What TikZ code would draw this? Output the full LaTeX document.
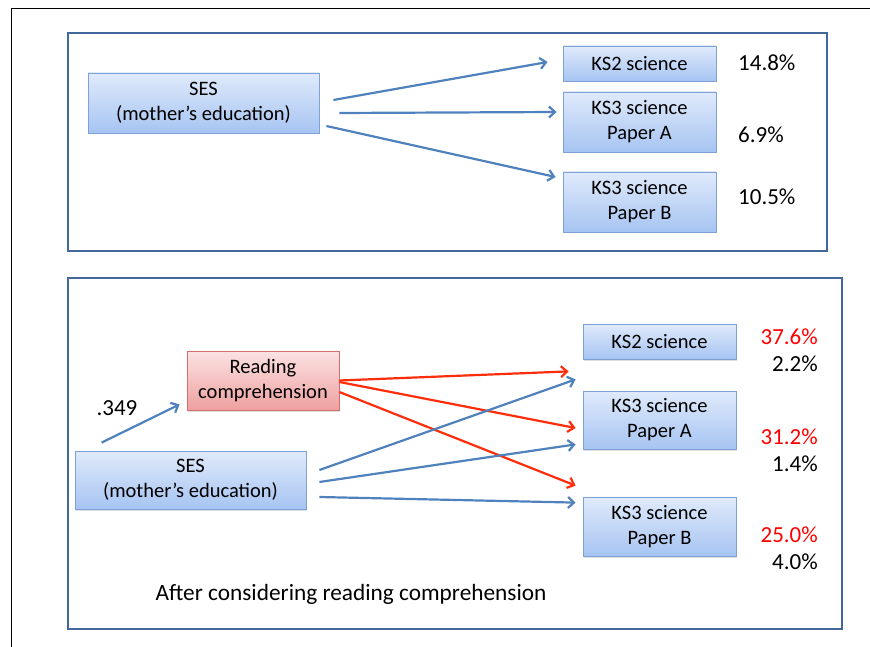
\documentclass[tikz,border=0pt]{standalone}
\usepackage{fontspec}
\setmainfont{Carlito}
\usetikzlibrary{positioning,arrows.meta,shadows}

\definecolor{boxtop}{RGB}{224,234,251}
\definecolor{boxbot}{RGB}{166,196,242}
\definecolor{boxline}{RGB}{126,161,214}
\definecolor{redtop}{RGB}{252,226,226}
\definecolor{redbot}{RGB}{238,160,160}
\definecolor{redline}{RGB}{214,110,110}
\definecolor{panelline}{RGB}{68,104,156}
\definecolor{arblue}{RGB}{79,129,189}
\definecolor{arred}{RGB}{255,45,10}
\definecolor{pctred}{RGB}{255,0,0}

\begin{document}
\begin{tikzpicture}[x=1pt,y=-1pt]
  \tikzstyle{bx}=[
    draw=boxline, rectangle, line width=0.8pt,
    top color=boxtop, bottom color=boxbot,
    drop shadow={opacity=0.25,shadow xshift=1pt,shadow yshift=-1.5pt},
    minimum width=153pt,
    minimum height=60pt,
    align=center, inner sep=0pt,
    font=\fontsize{20.5}{25}\selectfont
  ]
  \tikzstyle{wx}=[bx,
    minimum width=231pt
  ]
  \tikzstyle{rx}=[bx,
    draw=redline, top color=redtop, bottom color=redbot,
    minimum width=152pt
  ]
  \tikzstyle{pct}=[inner sep=0pt, align=right,
    font=\fontsize{23}{27}\selectfont
  ]
  \tikzstyle{ar}=[draw=arblue, line width=2.2pt,
    -{Straight Barb[length=6pt,width=11pt]}
  ]
  \tikzstyle{ra}=[ar, draw=arred]
  \tikzstyle{panel}=[draw=panelline, line width=2.4pt]

  \useasboundingbox (0,0) rectangle (870,647);
  \draw[line width=0.8pt] (870,8) -- (11,8) -- (11,647);

  % before
  \draw[panel] (68,33) rectangle (827,251);
  \node[wx] (ses) at (203.5,103) {SES\\(mother’s education)};
  \node[bx, minimum height=35pt] (ks2) at (639.5,63.5) {KS2 science};
  \node[bx] (ks3a) at (639.5,122) {KS3 science\\Paper A};
  \node[bx] (ks3b) at (639.5,202) {KS3 science\\Paper B};
  \node[pct, anchor=west] (ks2 pct) at (738,63) {14.8\%};
  \node[pct, anchor=west] (ks3a pct) at (738,135) {6.9\%};
  \node[pct, anchor=west] (ks3b pct) at (738,197) {10.5\%};

  \draw[ar] ([xshift=14pt,yshift=3pt]ses.east) -- ([xshift=-15pt,yshift=1.5pt]ks2.west);
  \draw[ar] ([xshift=20pt,yshift=-10pt]ses.east) -- ([xshift=-6pt,yshift=10pt]ks3a.west);
  \draw[ar] ([xshift=7pt,yshift=-23pt]ses.east) -- ([xshift=-7pt,yshift=25pt]ks3b.west);

  % after
  \draw[panel] (68,278) rectangle (842,629);
  \node[rx, minimum height=59pt] (read) at (263,380.5) {Reading\\comprehension};
  \node[wx, minimum height=58pt] (ses2) at (190.5,480) {SES\\(mother’s education)};
  \node[bx, minimum height=35pt] (ks2 after) at (659.5,341.5) {KS2 science};
  \node[bx, minimum height=58pt] (ks3a after) at (659.5,420) {KS3 science\\Paper A};
  \node[bx, minimum height=59pt] (ks3b after) at (659.5,526.5) {KS3 science\\Paper B};
  \node[pct, anchor=east] (ks2 after pct) at (818,350.5) {\textcolor{pctred}{37.6\%}\\2.2\%};
  \node[pct, anchor=east] (ks3a after pct) at (818,450) {\textcolor{pctred}{31.2\%}\\1.4\%};
  \node[pct, anchor=east] (ks3b after pct) at (818,548.5) {\textcolor{pctred}{25.0\%}\\4.0\%};
  \node[pct] (path coef) at (117,408) {.349};
  \node[inner sep=0pt, font=\fontsize{23.3}{27}\selectfont] (caption) at (351,594)
    {After considering reading comprehension};

  \draw[ar] ([xshift=27pt,yshift=8pt]ses2.north west) -- ([xshift=-7pt,yshift=6pt]read.south west);
  \draw[ra] (read.east) -- ([xshift=-14pt,yshift=-12pt]ks2 after.south west);
  \draw[ra] ([yshift=-1.5pt]read.east) -- ([xshift=-7pt,yshift=-8pt]ks3a after.west);
  \draw[ra] ([yshift=-11.5pt]read.east) -- ([xshift=-7pt,yshift=11pt]ks3b after.north west);
  \draw[ar] ([xshift=13pt,yshift=10pt]ses2.east) -- ([xshift=-7pt,yshift=-20pt]ks2 after.south west);
  \draw[ar] ([xshift=13pt,yshift=-2pt]ses2.east) -- ([xshift=-7pt,yshift=5pt]ks3a after.south west);
  \draw[ar] ([xshift=13pt,yshift=-17pt]ses2.east) -- ([xshift=-7pt,yshift=-6pt]ks3b after.north west);
\end{tikzpicture}
\end{document}
